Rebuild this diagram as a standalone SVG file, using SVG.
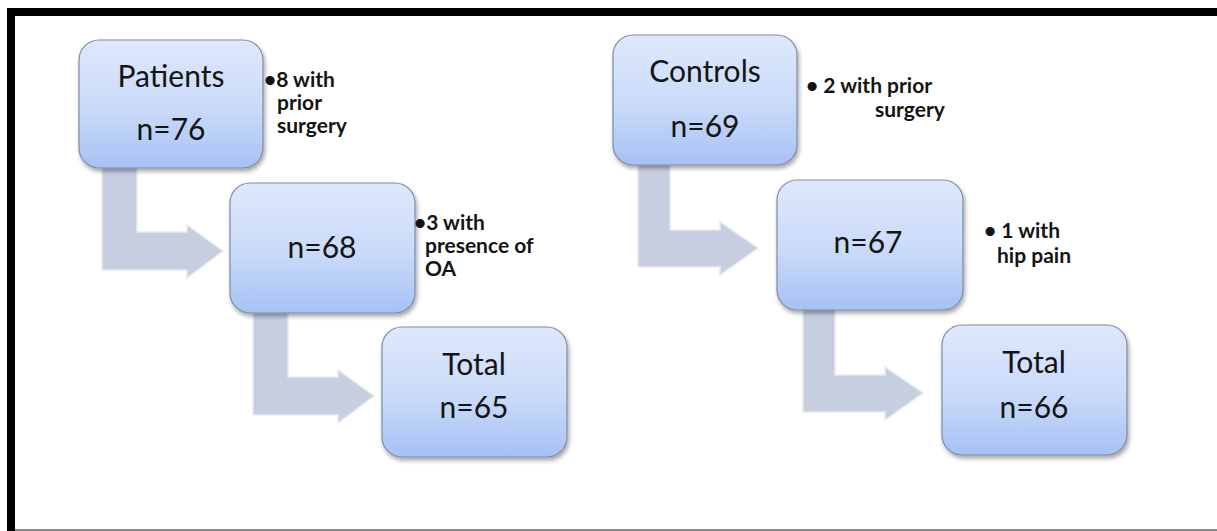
<svg xmlns="http://www.w3.org/2000/svg" width="1217" height="531" viewBox="0 0 1217 531">
  <style>
    .box { fill: url(#boxFill); stroke: #7d8ba3; stroke-width: 1.2; filter: url(#shadow); }
    .arrow { fill: #c6cee0; stroke: #e6eaf2; stroke-width: 1.5; }
    .label { font-family: Lato, "Open Sans", sans-serif; font-size: 30px; fill: #141414; text-anchor: middle; }
    .note { font-family: Lato, "Open Sans", sans-serif; font-size: 21px; font-weight: bold; fill: #141414; }
  </style>
  <defs>
    <linearGradient id="boxFill" x1="0" y1="0" x2="0" y2="1">
      <stop offset="0" stop-color="#dfe8fb"/>
      <stop offset="0.55" stop-color="#c9daf9"/>
      <stop offset="1" stop-color="#a6c1f4"/>
    </linearGradient>
    <filter id="shadow" x="-10%" y="-10%" width="125%" height="130%">
      <feDropShadow dx="1.5" dy="3" stdDeviation="2" flood-color="#000" flood-opacity="0.35"/>
    </filter>
  </defs>

  <rect x="0" y="0" width="1217" height="531" fill="#ffffff"/>
  <!-- frame: black top and left bars, thin grey baseline -->
  <rect x="7" y="8" width="1210" height="8" fill="#000"/>
  <rect x="7" y="8" width="8" height="523" fill="#000"/>
  <rect x="15" y="529" width="1202" height="2" fill="#8a8a8a"/>

  <!-- bent arrows between stages -->
  <g id="connectors">
    <path class="arrow" d="M102,160 H137 V232 H187 V225 L223,251 L187,278 V270 H102 Z"/>
    <path class="arrow" d="M253,305 H288 V377 H338 V370 L374,396 L338,423 V415 H253 Z"/>
    <path class="arrow" d="M638,158 H670 V230 H720 V222 L758,248 L720,275 V267 H638 Z"/>
    <path class="arrow" d="M803,303 H835 V375 H885 V367 L923,393 L885,420 V412 H803 Z"/>
  </g>

  <g id="patients">
    <rect class="box" x="79" y="40" width="184" height="128" rx="20"/>
    <text class="label" x="171" y="87">Patients</text>
    <text class="label" x="171" y="140">n=76</text>
  </g>
  <g id="patients-note">
    <text class="note" x="264" y="87">•8 with</text>
    <text class="note" x="277" y="110">prior</text>
    <text class="note" x="277" y="133">surgery</text>
  </g>

  <g id="patients-n68">
    <rect class="box" x="230" y="183" width="185" height="130" rx="20"/>
    <text class="label" x="322" y="258">n=68</text>
  </g>
  <g id="oa-note">
    <text class="note" x="414" y="230">•3 with</text>
    <text class="note" x="425" y="253">presence of</text>
    <text class="note" x="425" y="276">OA</text>
  </g>

  <g id="patients-total">
    <rect class="box" x="382" y="327" width="185" height="130" rx="20"/>
    <text class="label" x="474" y="375">Total</text>
    <text class="label" x="474" y="418">n=65</text>
  </g>

  <g id="controls">
    <rect class="box" x="613" y="35" width="184" height="130" rx="20"/>
    <text class="label" x="705" y="82">Controls</text>
    <text class="label" x="705" y="137">n=69</text>
  </g>
  <g id="controls-note">
    <text class="note" x="806" y="93">• 2 with prior</text>
    <text class="note" x="875" y="117">surgery</text>
  </g>

  <g id="controls-n67">
    <rect class="box" x="777" y="180" width="186" height="130" rx="20"/>
    <text class="label" x="868" y="253">n=67</text>
  </g>
  <g id="pain-note">
    <text class="note" x="984" y="238">• 1 with</text>
    <text class="note" x="997" y="263">hip pain</text>
  </g>

  <g id="controls-total">
    <rect class="box" x="942" y="325" width="185" height="130" rx="20"/>
    <text class="label" x="1034" y="373">Total</text>
    <text class="label" x="1034" y="418">n=66</text>
  </g>
</svg>
